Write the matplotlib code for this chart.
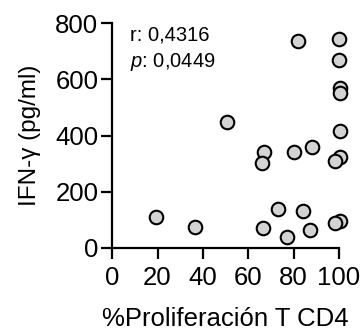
import matplotlib
matplotlib.use("Agg")
import matplotlib.pyplot as plt

# Data
prolif = [19.3, 36.7, 50.8, 67.0, 65.9, 66.7, 73.0, 77.2, 80.0, 82.1, 84.0,
          87.4, 88.2, 100.2, 100.2, 100.5, 100.5, 100.5, 100.5, 98.2, 100.5, 98.2]
ifng = [109, 75, 449, 340, 303, 69, 139, 40, 340, 736, 130,
        64, 361, 745, 669, 570, 553, 417, 322, 308, 95, 89]

x_ticks = [0, 20, 40, 60, 80, 100]
y_ticks = [0, 200, 400, 600, 800]

plt.rcParams["font.family"] = ["Liberation Sans", "DejaVu Sans"]
plt.rcParams["mathtext.fontset"] = "custom"
plt.rcParams["mathtext.rm"] = "Liberation Sans"
plt.rcParams["mathtext.it"] = "Liberation Sans:italic"

fig = plt.figure(figsize=(3.63, 3.34), dpi=100)
ax = fig.add_axes([0.309, 0.258, 0.625, 0.672])

ax.scatter(prolif, ifng, s=95, facecolor="#d3d3d3", edgecolor="black",
           linewidth=1.5, clip_on=False, zorder=3)

ax.set_xlim(0, 100)
ax.set_ylim(0, 800)
ax.set_xticks(x_ticks)
ax.set_yticks(y_ticks)

for side in ["top", "right"]:
    ax.spines[side].set_visible(False)
for side in ["left", "bottom"]:
    ax.spines[side].set_linewidth(1.6)
ax.tick_params(width=1.6, length=8, labelsize=18.5)
ax.tick_params(axis="x", pad=5)
ax.tick_params(axis="y", pad=2)

ax.set_xlabel("%Proliferación T CD4", fontsize=18.5, labelpad=12)
ax.set_ylabel("IFN-γ (pg/ml)", fontsize=17.5, labelpad=10)

ax.text(0.08, 0.99, "r: 0,4316", transform=ax.transAxes, fontsize=14.5,
        va="top")
ax.text(0.08, 0.875, "$\\it{p}$: 0,0449", transform=ax.transAxes,
        fontsize=14.5, va="top")

fig.savefig("out.png", dpi=100)
